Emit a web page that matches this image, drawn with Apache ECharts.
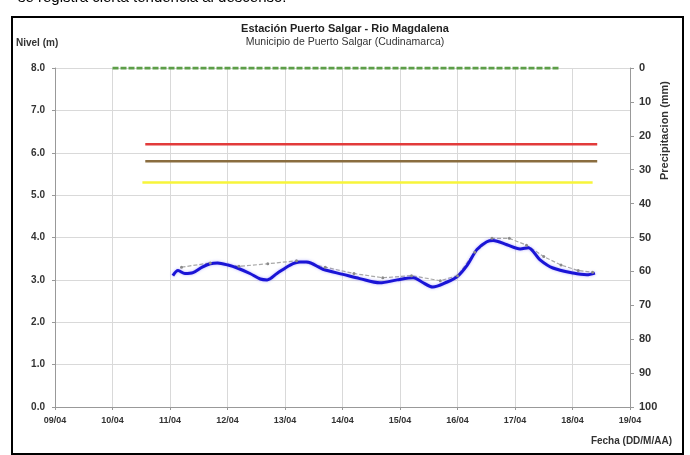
<!DOCTYPE html>
<html>
<head>
<meta charset="utf-8">
<script src="https://cdn.jsdelivr.net/npm/echarts@6/dist/echarts.min.js"></script>
<style>
  html, body { margin: 0; padding: 0; background: #fff; }
  #chart { width: 690px; height: 455px; }
</style>
</head>
<body>
<div id="chart"></div>
<script>
// etiquetas del eje de fechas (0 = 09/04)
const fechas = ['09/04', '10/04', '11/04', '12/04', '13/04', '14/04', '15/04', '16/04', '17/04', '18/04', '19/04'];

// nivel observado (dias desde 09/04, metros)
const nivelDias = [2.05, 2.14, 2.26, 2.40, 2.56, 2.70, 2.83, 3.01, 3.17, 3.39, 3.57, 3.69, 3.86, 4.09, 4.26, 4.38,
  4.66, 5.01, 5.30, 5.65, 5.95, 6.23, 6.38, 6.57, 6.82, 6.99, 7.17, 7.34, 7.51, 7.62, 7.86, 8.09, 8.23, 8.43,
  8.66, 9.01, 9.25, 9.39];
const nivelValores = [3.10, 3.22, 3.15, 3.17, 3.30, 3.38, 3.40, 3.35, 3.28, 3.15, 3.02, 3.00, 3.15, 3.35, 3.42, 3.42,
  3.25, 3.13, 3.03, 2.93, 3.00, 3.05, 2.95, 2.83, 2.95, 3.07, 3.35, 3.72, 3.90, 3.93, 3.83, 3.73, 3.76, 3.48,
  3.28, 3.16, 3.12, 3.16];

// nivel de referencia (gris con marcadores)
const refDias = [2.2, 2.7, 3.2, 3.7, 4.2, 4.7, 5.2, 5.7, 6.2, 6.7, 7.0, 7.3, 7.6, 7.9, 8.2, 8.5, 8.8, 9.1, 9.35];
const refValores = [3.30, 3.40, 3.32, 3.38, 3.45, 3.30, 3.15, 3.05, 3.10, 2.98, 3.10, 3.65, 3.98, 3.98, 3.82, 3.55, 3.35, 3.22, 3.18];

// umbrales
const umbralVerde = { desde: 1.0, hasta: 8.78, valor: 8.0 };
const umbralRojo = { desde: 1.57, hasta: 9.43, valor: 6.2 };
const umbralCafe = { desde: 1.57, hasta: 9.43, valor: 5.8 };
const umbralAmarillo = { desde: 1.52, hasta: 9.35, valor: 5.3 };

const par = (xs, ys) => xs.map((x, i) => [x, ys[i]]);
const umbral = u => [[u.desde, u.valor], [u.hasta, u.valor]];

const chart = echarts.init(document.getElementById('chart'));

const labelStyle = { color: '#333', fontSize: 10, fontWeight: 'bold', fontFamily: 'Liberation Sans' };

const option = {
  animation: false,
  backgroundColor: '#fff',
  title: {
    text: 'Estación Puerto Salgar - Rio Magdalena',
    subtext: 'Municipio de Puerto Salgar (Cudinamarca)',
    left: 'center',
    top: 18,
    itemGap: 3,
    textStyle: { fontSize: 11, fontWeight: 'bold', color: '#222', fontFamily: 'Liberation Sans' },
    subtextStyle: { fontSize: 10.5, color: '#333', fontFamily: 'Liberation Sans' }
  },
  grid: { left: 55, right: 60, top: 68, bottom: 48 },
  xAxis: {
    type: 'value',
    min: 0,
    max: 10,
    interval: 1,
    axisLine: { lineStyle: { color: '#999' } },
    axisTick: { length: 3, lineStyle: { color: '#999' } },
    splitLine: { lineStyle: { color: '#d9d9d9' } },
    axisLabel: Object.assign({}, labelStyle, { margin: 9, fontSize: 9, formatter: v => fechas[Math.round(v)] })
  },
  yAxis: [
    {
      type: 'value',
      min: 0,
      max: 8,
      interval: 1,
      axisLine: { show: true, lineStyle: { color: '#999' } },
      axisTick: { show: true, length: 3, lineStyle: { color: '#999' } },
      splitLine: { lineStyle: { color: '#d9d9d9' } },
      axisLabel: Object.assign({}, labelStyle, { margin: 10, formatter: v => v.toFixed(1) })
    },
    {
      type: 'value',
      min: 0,
      max: 100,
      interval: 10,
      inverse: true,
      position: 'right',
      axisLine: { show: true, lineStyle: { color: '#999' } },
      axisTick: { show: true, length: 4, lineStyle: { color: '#999' } },
      splitLine: { show: false },
      axisLabel: Object.assign({}, labelStyle, { margin: 9, fontSize: 11 })
    }
  ],
  graphic: [
    { type: 'rect', shape: { x: 12, y: 17, width: 671, height: 437 },
      style: { fill: 'none', stroke: '#000', lineWidth: 2 }, z: 100 },
    { type: 'text', left: 18, top: -10,
      style: { text: 'se registra cierta tendencia al descenso.', font: '15px "Liberation Sans"', fill: '#000' } },
    { type: 'text', left: 16, top: 38,
      style: { text: 'Nivel (m)', font: 'bold 10px "Liberation Sans"', fill: '#333' } },
    { type: 'text', right: 18, top: 436,
      style: { text: 'Fecha (DD/M/AA)', font: 'bold 10px "Liberation Sans"', fill: '#333' } },
    { type: 'text', x: 659, y: 180, rotation: Math.PI / 2,
      style: { text: 'Precipitacion (mm)', font: 'bold 11px "Liberation Sans"', fill: '#333' } }
  ],
  series: [
    { type: 'line', data: umbral(umbralVerde), symbol: 'none',
      lineStyle: { color: '#5d9e48', width: 3, type: [6, 2] } },
    { type: 'line', data: umbral(umbralRojo), symbol: 'none',
      lineStyle: { color: '#e23b3b', width: 2.5 } },
    { type: 'line', data: umbral(umbralCafe), symbol: 'none',
      lineStyle: { color: '#8a6d3f', width: 2.5 } },
    { type: 'line', data: umbral(umbralAmarillo), symbol: 'none',
      lineStyle: { color: '#f7f53a', width: 2.5 } },
    { type: 'line', data: par(refDias, refValores), symbol: 'circle', symbolSize: 3,
      itemStyle: { color: '#8a8a8a' },
      lineStyle: { color: '#a8a8a8', width: 1.2, type: [4, 2] } },
    { type: 'line', data: par(nivelDias, nivelValores), symbol: 'none', smooth: 0.3,
      lineStyle: { color: '#1a14d6', width: 3, shadowColor: 'rgba(90,80,255,0.45)', shadowBlur: 3 } }
  ]
};

chart.setOption(option);
</script>
</body>
</html>
